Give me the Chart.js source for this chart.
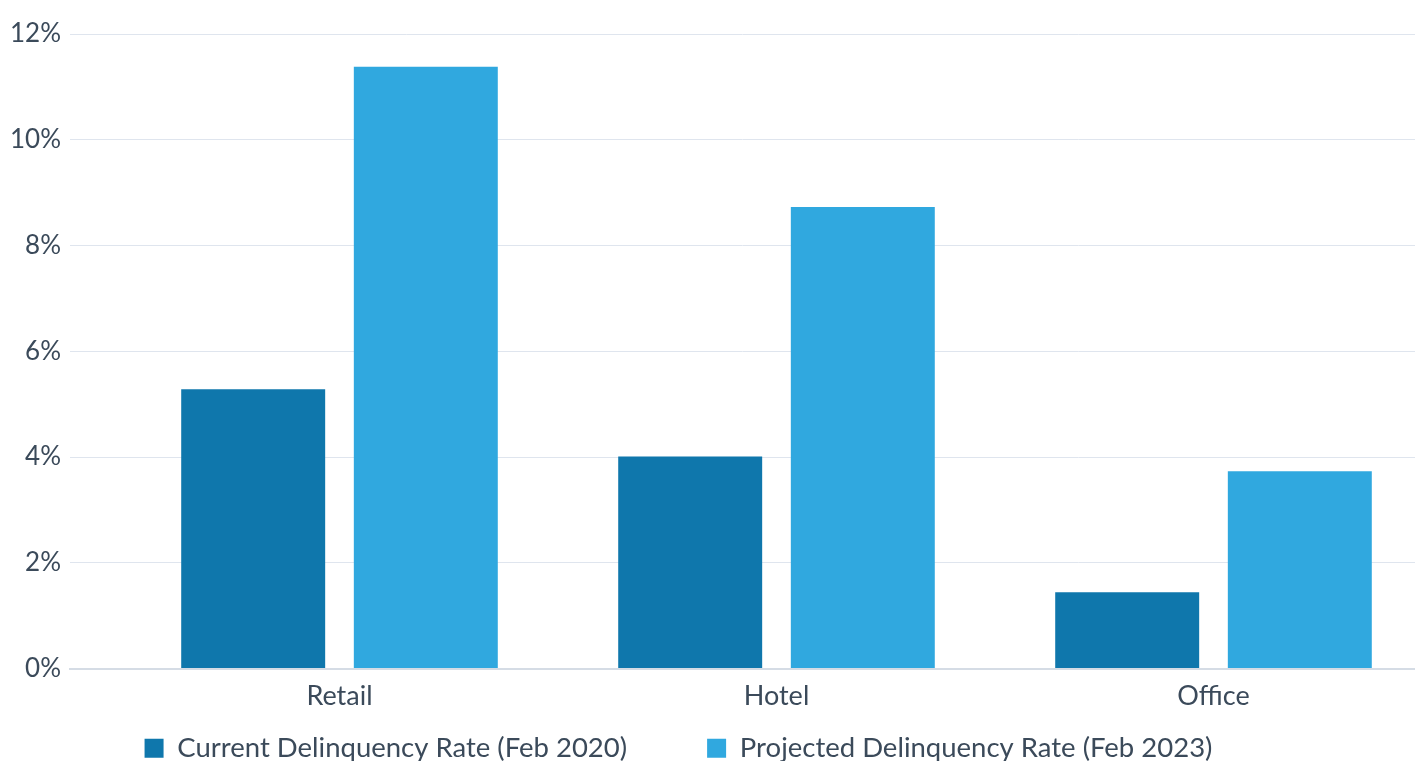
<!DOCTYPE html>
<html>
<head>
<meta charset="utf-8">
<script src="https://cdn.jsdelivr.net/npm/chart.js@4.4.1/dist/chart.umd.min.js"></script>
<style>
  html, body { margin: 0; padding: 0; background: #ffffff; overflow: hidden; }
  #wrap { position: relative; width: 1415px; height: 830px; }
</style>
</head>
<body>
<div id="wrap"><canvas id="c"></canvas></div>
<script>
// ---- data ----
const categories = ["Retail", "Hotel", "Office"];
const currentRate = [5.28, 4.01, 1.44];      // Current Delinquency Rate (Feb 2020), %
const projectedRate = [11.38, 8.73, 3.73];   // Projected Delinquency Rate (Feb 2023), %
const seriesNames = ["Current Delinquency Rate (Feb 2020)", "Projected Delinquency Rate (Feb 2023)"];
const yTicks = [0, 2, 4, 6, 8, 10, 12];

// ---- style ----
const FONT = "Lato";
const TEXT = "#3b4a5a";
const GRID = "#dfe5ee";
const AXIS = "#d5dce5";
const DARK = "#0f77ac";
const LIGHT = "#30a8df";

const LEG_DX = -35;
const LEG_DY = -58;
const legendShift = {
  id: "legendShift",
  afterLayout(chart) {
    const lg = chart.legend;
    if (!lg) return;
    lg.left += LEG_DX; lg.right += LEG_DX;
    lg.top += LEG_DY; lg.bottom += LEG_DY;
  }
};

const toPoints = arr => arr.map((v, i) => ({ x: i, y: v }));

new Chart(document.getElementById("c"), {
  type: "bar",
  data: {
    datasets: [
      { label: seriesNames[0], data: toPoints(currentRate), backgroundColor: DARK, borderWidth: 0 },
      { label: seriesNames[1], data: toPoints(projectedRate), backgroundColor: LIGHT, borderWidth: 0 }
    ]
  },
  options: {
    responsive: true,
    maintainAspectRatio: false,
    animation: false,
    categoryPercentage: 0.79,
    barPercentage: 0.834,
    layout: { padding: { left: 12, top: 34, right: 0, bottom: 0 } },
    plugins: {
      tooltip: { enabled: false },
      legend: {
        position: "bottom",
        labels: {
          font: { family: FONT, size: 27.5 },
          color: TEXT,
          boxWidth: 19,
          boxHeight: 19,
          padding: 80
        }
      }
    },
    scales: {
      x: {
        type: "linear",
        offset: false,
        min: -0.6167,
        max: 2.4611,
        grid: { display: false, drawTicks: false, offset: false },
        border: { display: true, color: AXIS, width: 2 },
        afterBuildTicks: s => { s.ticks = categories.map((_, i) => ({ value: i })); },
        afterFit: s => { s.height = 44; },
        ticks: {
          autoSkip: false,
          maxRotation: 0,
          padding: 12,
          color: TEXT,
          font: { family: FONT, size: 27 },
          callback: v => categories[v]
        }
      },
      y: {
        min: 0,
        max: 12,
        afterBuildTicks: s => { s.ticks = yTicks.map(v => ({ value: v })); },
        afterFit: s => { s.width = 58; },
        grid: { color: GRID, lineWidth: 1, drawTicks: false },
        border: { display: false },
        ticks: {
          padding: 9,
          color: TEXT,
          font: { family: FONT, size: 26 },
          callback: v => v + "%"
        }
      }
    }
  },
  plugins: [legendShift]
});
</script>
</body>
</html>
